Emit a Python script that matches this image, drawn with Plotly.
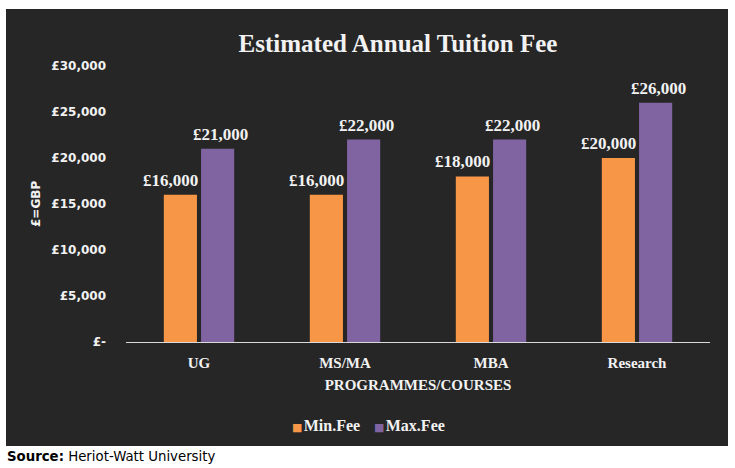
import plotly.graph_objects as go

categories = ["UG", "MS/MA", "MBA", "Research"]
min_fee = [16000, 16000, 18000, 20000]
max_fee = [21000, 22000, 22000, 26000]
series_names = ["Min.Fee", "Max.Fee"]
tick_vals = [0, 5000, 10000, 15000, 20000, 25000, 30000]
tick_text = ["£-", "£5,000", "£10,000", "£15,000", "£20,000", "£25,000", "£30,000"]

W, H = 735, 468
L, R, T, B = 126, 710, 66, 342
pw, ph = R - L, B - T

def px(x):
    return (x - L) / pw

def py(y):
    return (B - y) / ph

BG = "#262626"
TXT = "#F2F2F2"
ORANGE = "#F79646"
PURPLE = "#8064A2"
serif = "Liberation Serif"
sans = "DejaVu Sans"

def fmt(v):
    return f"<b>£{v:,}</b>"

fig = go.Figure()
fig.add_trace(go.Bar(
    x=categories, y=min_fee, name=series_names[0], marker=dict(color=ORANGE, line=dict(width=0)),
))
fig.add_trace(go.Bar(
    x=categories, y=max_fee, name=series_names[1], marker=dict(color=PURPLE, line=dict(width=0)),
))

# data labels (orange labels nudged left as in the original)
for series, shift in ((min_fee, -29), (max_fee, 21)):
    for c, v in zip(categories, series):
        fig.add_annotation(x=c, y=v, xref="x", yref="y", text=fmt(v), showarrow=False,
                           xanchor="center", yanchor="bottom", xshift=shift, yshift=3,
                           font=dict(family=serif, size=17, color=TXT))

# legend (drawn as text so the swatches stay small and tight like the original)
for name, color, lx in ((series_names[0], ORANGE, 290), (series_names[1], PURPLE, 372)):
    fig.add_annotation(
        xref="paper", yref="paper", x=px(lx), y=py(425), xanchor="left", yanchor="middle",
        showarrow=False,
        text=f'<span style="font-family:DejaVu Sans;font-size:11px;color:{color}">■</span>&#8202;<b>{name}</b>',
        font=dict(family=serif, size=16, color=TXT),
    )

fig.update_layout(
    width=W, height=H,
    margin=dict(l=L, r=W - R, t=T, b=H - B, pad=0),
    paper_bgcolor="white", plot_bgcolor=BG,
    barmode="group", bargap=0.49, bargroupgap=0.11,
    showlegend=False,
    title=dict(text="<b>Estimated Annual Tuition Fee</b>", x=(398) / W, xanchor="center",
               y=1 - 43 / H, yanchor="middle", font=dict(family=serif, size=25, color=TXT)),
    font=dict(family=sans, color=TXT),
)

fig.update_xaxes(
    showline=True, linecolor="#D9D9D9", linewidth=1, showgrid=False, ticks="",
    tickfont=dict(family=serif, size=15, color=TXT), ticklabelstandoff=7,
    title=dict(text="<b>PROGRAMMES/COURSES</b>", font=dict(family=serif, size=15, color=TXT), standoff=9),
    tickprefix="<b>", ticksuffix="</b>",
)
fig.update_yaxes(
    range=[0, 30000], tickvals=tick_vals, ticktext=["<b>" + t + "</b>" for t in tick_text],
    showgrid=False, zeroline=False, showline=False, ticks="",
    tickfont=dict(family=sans, size=12, color=TXT), ticklabelstandoff=19,
)

# dark panel
fig.add_shape(type="rect", xref="paper", yref="paper", x0=px(6), x1=px(728), y0=py(446), y1=py(9),
              fillcolor=BG, line=dict(width=0), layer="below")

fig.add_annotation(text="<b>£=GBP</b>", xref="paper", yref="paper", x=px(36), y=py(204),
                   textangle=-90, showarrow=False, font=dict(family=sans, size=12, color=TXT),
                   xanchor="center", yanchor="middle")
fig.add_annotation(text="<b>Source:</b> Heriot-Watt University", xref="paper", yref="paper",
                   x=px(5), y=py(456), xanchor="left", yanchor="middle", showarrow=False,
                   font=dict(family=sans, size=13.3, color="black"))

fig.write_html("out.html")
